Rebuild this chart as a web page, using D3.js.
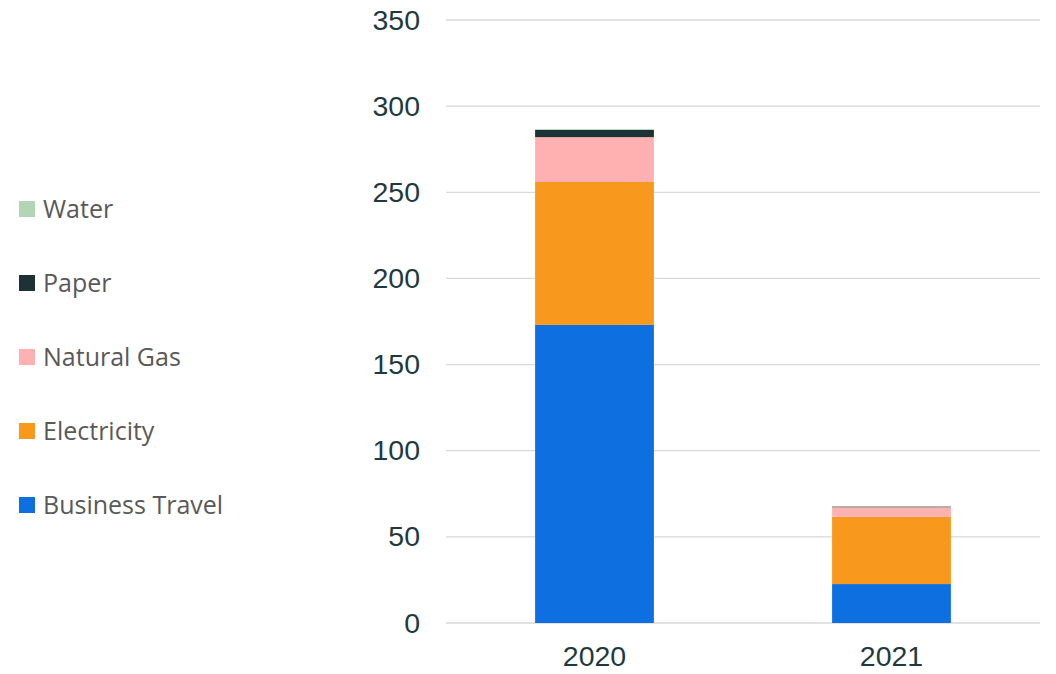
<!DOCTYPE html>
<html><head><meta charset="utf-8">
<script src="https://cdn.jsdelivr.net/npm/d3@7"></script>
<style>body{margin:0;background:#fff}svg{display:block}</style>
</head><body>
<svg id="c" width="1056" height="674"></svg>
<script>
const years = ["2020", "2021"];
const seriesNames = ["Business Travel", "Electricity", "Natural Gas", "Paper", "Water"];
const businessTravel = [173, 22.6];
const electricity = [83, 39];
const naturalGas = [26, 5.6];
const paper = [4.2, 0.4];
const water = [0.5, 0.3];
const colors = ["#0E70E0", "#F8981D", "#FFB0B0", "#1B3237", "#B3D4B5"];
const yTicks = [0, 50, 100, 150, 200, 250, 300, 350];

const seriesValues = [businessTravel, electricity, naturalGas, paper, water];
const rows = years.map((y, i) => {
  const r = {year: y};
  seriesNames.forEach((s, k) => r[s] = seriesValues[k][i]);
  return r;
});
const stack = d3.stack().keys(seriesNames)(rows);

const svg = d3.select("#c");
const x = d3.scaleBand().domain(years).range([446, 1040]).paddingInner(0.6).paddingOuter(0.3);
const y = d3.scaleLinear().domain([0, 350]).range([623, 20]);

// gridlines
svg.append("g").selectAll("line").data(yTicks).join("line")
  .attr("x1", 446).attr("x2", 1040)
  .attr("y1", d => y(d)).attr("y2", d => y(d))
  .attr("stroke", "#d9d9d9").attr("stroke-width", 1.3);

// y axis labels
const yAxis = svg.append("g").attr("transform", "translate(420,0)")
  .call(d3.axisLeft(y).tickValues(yTicks).tickSize(0).tickPadding(0));
yAxis.select(".domain").remove();
yAxis.selectAll("text").attr("font-family", "Liberation Sans, Arial, sans-serif")
  .attr("font-size", 28.5).attr("fill", "#1F3A3F");

// x axis labels
const xAxis = svg.append("g").attr("transform", "translate(0,646)")
  .call(d3.axisBottom(x).tickSize(0).tickPadding(0));
xAxis.select(".domain").remove();
xAxis.selectAll("text").attr("font-family", "Liberation Sans, Arial, sans-serif")
  .attr("font-size", 28.5).attr("fill", "#1F3A3F");

// bars
svg.append("g").selectAll("g").data(stack).join("g")
  .attr("fill", (d, i) => colors[i])
  .selectAll("rect").data(d => d).join("rect")
  .attr("x", d => x(d.data.year))
  .attr("width", x.bandwidth())
  .attr("y", d => y(d[1]))
  .attr("height", d => y(d[0]) - y(d[1]));

// legend
const legY = d3.scalePoint().domain(seriesNames.slice().reverse()).range([209, 505]);
const leg = svg.append("g").selectAll("g").data(seriesNames).join("g")
  .attr("transform", d => `translate(19,${legY(d)})`);
leg.append("rect").attr("x", 0).attr("y", -8).attr("width", 16).attr("height", 16)
  .attr("fill", (d, i) => colors[i]);
leg.append("text").attr("x", 24).attr("y", 0).attr("dy", "0.35em")
  .attr("font-family", "Open Sans, sans-serif").attr("font-size", 25)
  .attr("fill", "#595959").text(d => d);
</script>
</body></html>
